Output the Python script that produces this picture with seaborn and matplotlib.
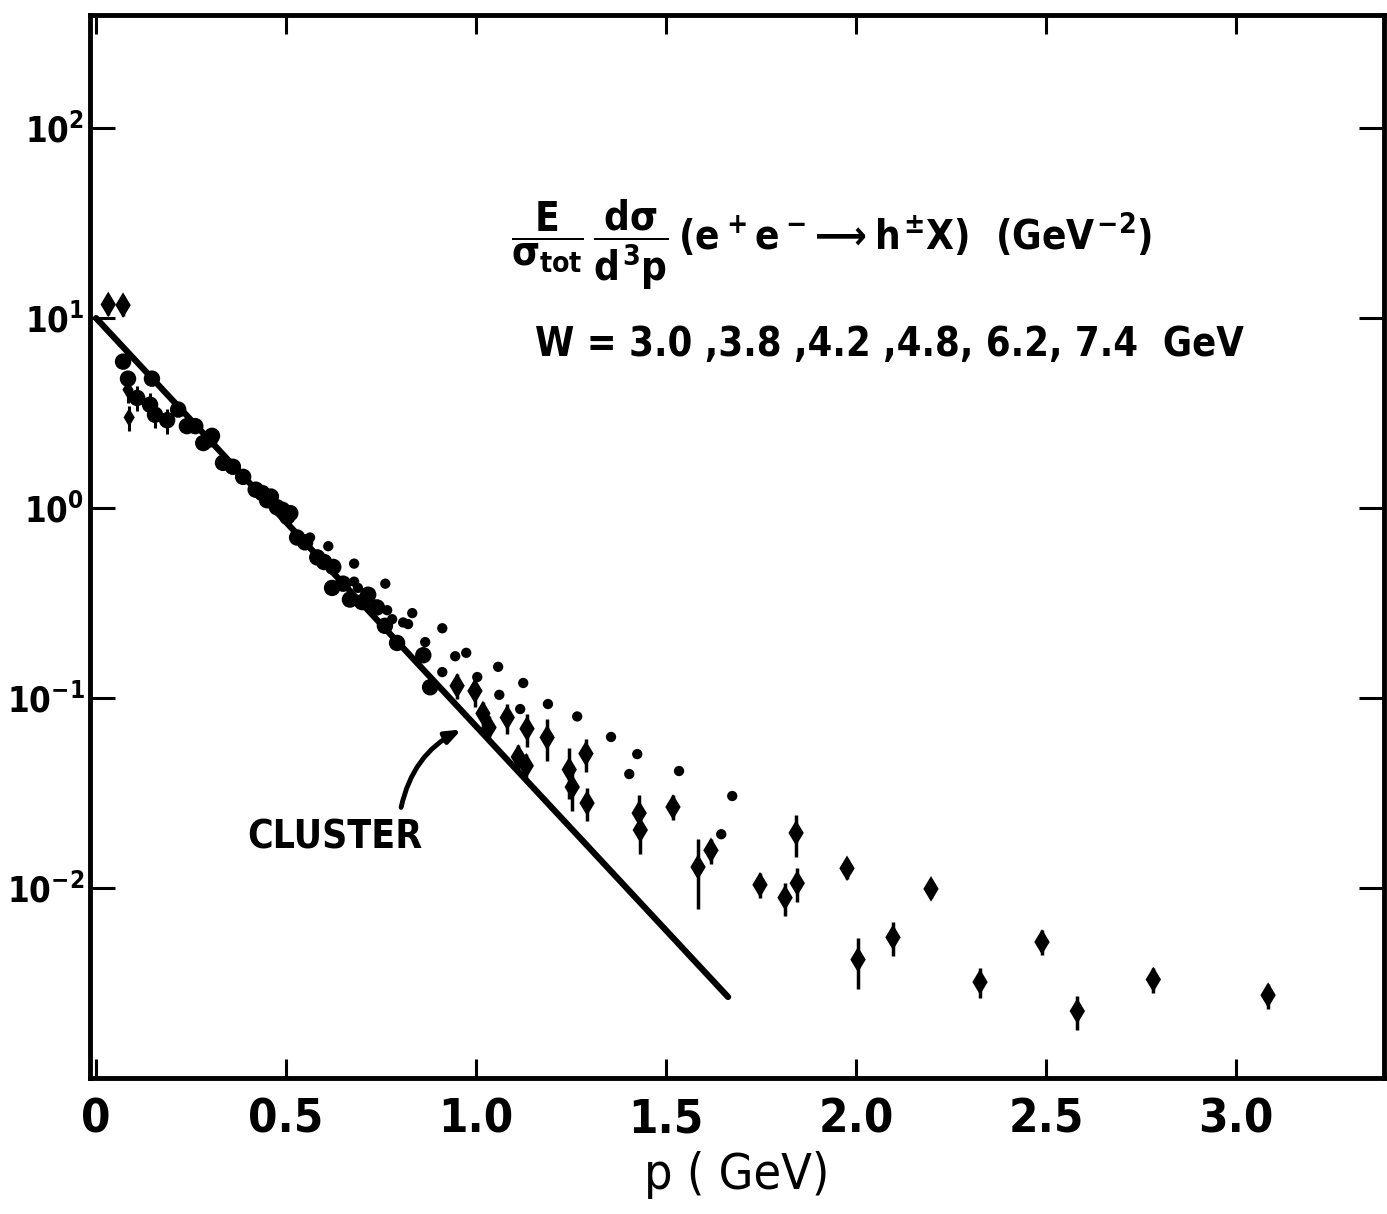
import numpy as np
import pandas as pd
import matplotlib
matplotlib.use("Agg")
import matplotlib.pyplot as plt
from matplotlib import font_manager as fm
import seaborn as sns

# --- data -----------------------------------------------------------------
# straight "cluster model" line (end points)
cluster_p = [0.0, 1.663]
cluster_y = [10.0, 2.67e-3]

# points sitting on / around the line at low momentum (big overlapping blobs)
blob_p = [0.071, 0.084, 0.108, 0.142, 0.147, 0.155, 0.187, 0.216, 0.239, 0.261,
          0.282, 0.30, 0.305, 0.334, 0.36, 0.387, 0.42, 0.437, 0.45, 0.46, 0.476,
          0.49, 0.503, 0.511, 0.529, 0.55, 0.582, 0.60, 0.621, 0.624, 0.65, 0.668,
          0.70, 0.716, 0.739, 0.76, 0.792, 0.861, 0.879]
blob_y = [5.9, 4.8, 3.8, 3.5, 4.8, 3.1, 2.9, 3.3, 2.7, 2.7,
          2.2, 2.3, 2.4, 1.73, 1.65, 1.46, 1.25, 1.20, 1.10, 1.15, 1.01,
          0.98, 0.90, 0.94, 0.70, 0.66, 0.55, 0.52, 0.38, 0.49, 0.40, 0.33,
          0.32, 0.35, 0.30, 0.24, 0.195, 0.168, 0.114]

# low-p points below the line (small diamonds with bars)
low_p = [0.084, 0.087, 0.108, 0.142, 0.155, 0.187]
low_y = [4.2, 3.0, 3.8, 3.5, 3.1, 2.9]

# plain dots (no visible error bars)
dot_p = [0.563, 0.611, 0.679, 0.679, 0.689, 0.761, 0.766, 0.779, 0.808, 0.821,
         0.832, 0.866, 0.911, 0.945, 0.974, 0.911, 1.003, 1.058, 1.124, 1.061,
         1.116, 1.189, 1.266, 1.355, 1.424, 1.403, 1.534, 1.674, 1.645]
dot_y = [0.70, 0.63, 0.51, 0.41, 0.38, 0.40, 0.29, 0.26, 0.25, 0.245,
         0.28, 0.197, 0.233, 0.166, 0.173, 0.137, 0.129, 0.146, 0.120, 0.104,
         0.0875, 0.093, 0.080, 0.0624, 0.0507, 0.0398, 0.0413, 0.0305, 0.0192]

# diamonds with error bars
dia_p = [0.032, 0.071, 0.950, 0.997, 1.018, 1.034, 1.082, 1.134, 1.187, 1.111,
         1.132, 1.245, 1.253, 1.289, 1.292, 1.429, 1.432, 1.518, 1.584, 1.618,
         1.747, 1.813, 1.845, 1.842, 1.976, 2.197, 2.005, 2.097, 2.326, 2.489,
         2.582, 2.782, 3.084]
dia_y = [11.8, 11.7, 0.116, 0.109, 0.083, 0.070, 0.079, 0.069, 0.062, 0.049,
         0.044, 0.042, 0.034, 0.051, 0.028, 0.0248, 0.0202, 0.0267, 0.0129, 0.0158,
         0.0104, 0.0089, 0.0106, 0.0195, 0.0127, 0.0099, 0.0042, 0.0055, 0.0032, 0.0052,
         0.00225, 0.0033, 0.00273]
dia_err = [0.12, 0.12, 0.15, 0.18, 0.15, 0.15, 0.18, 0.20, 0.25, 0.15,
           0.15, 0.30, 0.25, 0.20, 0.20, 0.25, 0.25, 0.15, 0.40, 0.15,
           0.15, 0.20, 0.20, 0.25, 0.12, 0.10, 0.30, 0.20, 0.18, 0.15,
           0.20, 0.15, 0.15]

x_ticks = [0, 0.5, 1.0, 1.5, 2.0, 2.5, 3.0]
x_labels = ["0", "0.5", "1.0", "1.5", "2.0", "2.5", "3.0"]
y_ticks = [1e-2, 1e-1, 1e0, 1e1, 1e2]
y_labels = [r"$10^{-2}$", r"$10^{-1}$", r"$10^{0}$", r"$10^{1}$", r"$10^{2}$"]

# --- style ----------------------------------------------------------------
sns.set_style("ticks")
fonts = fm.fontManager.ttflist
if any(f.name == "Liberation Sans Narrow" for f in fonts):
    font = "Liberation Sans Narrow"
else:
    font = "DejaVu Sans"
plt.rcParams["font.family"] = [font, "DejaVu Sans"]
plt.rcParams["font.weight"] = "bold"
if any(f.name == font and f.stretch == "condensed" for f in fonts):
    plt.rcParams["font.stretch"] = "condensed"
plt.rcParams["mathtext.fontset"] = "custom"
plt.rcParams["mathtext.rm"] = font + ":bold"
plt.rcParams["mathtext.it"] = font + ":bold"
plt.rcParams["mathtext.bf"] = font + ":bold"
plt.rcParams["mathtext.sf"] = font + ":bold"
for k in ["text.color", "axes.labelcolor", "xtick.color", "ytick.color", "axes.edgecolor"]:
    plt.rcParams[k] = "black"

fig = plt.figure(figsize=(13.87, 12.14), dpi=100)
ax = fig.add_axes([90 / 1387, 1 - 1078 / 1214, 1294 / 1387, 1063 / 1214])

cl = pd.DataFrame({"p": cluster_p, "y": cluster_y})
sns.lineplot(data=cl, x="p", y="y", color="black", lw=4.5, ax=ax,
             solid_capstyle="round")

blobs = pd.DataFrame({"p": blob_p, "y": blob_y})
sns.scatterplot(data=blobs, x="p", y="y", color="black", s=140, marker="o",
                edgecolor="none", ax=ax)

dots = pd.DataFrame({"p": dot_p, "y": dot_y})
sns.scatterplot(data=dots, x="p", y="y", color="black", s=55, marker="o",
                edgecolor="none", ax=ax)

low = pd.DataFrame({"p": low_p, "y": low_y})
ax.errorbar(low["p"], low["y"], yerr=low["y"] * 0.15, fmt="none", ecolor="black",
            elinewidth=2.2, capsize=0)
sns.scatterplot(data=low, x="p", y="y", color="black", s=90, marker="d",
                edgecolor="none", ax=ax)

dia = pd.DataFrame({"p": dia_p, "y": dia_y, "e": dia_err})
ax.errorbar(dia["p"], dia["y"], yerr=dia["y"] * dia["e"], fmt="none",
            ecolor="black", elinewidth=2.5, capsize=0)
sns.scatterplot(data=dia, x="p", y="y", color="black", s=170, marker="d",
                edgecolor="none", ax=ax)

ax.set_yscale("log")
ax.set_xlim(-0.016, 3.389)
ax.set_ylim(1e-3, 394)
ax.set_xticks(x_ticks)
ax.set_xticklabels(x_labels)
ax.set_yticks(y_ticks)
ax.set_yticklabels(y_labels)
ax.minorticks_off()
ax.yaxis.set_minor_locator(matplotlib.ticker.NullLocator())
ax.tick_params(axis="x", direction="in", length=14, width=2.2, top=True,
               labelsize=34, pad=14)
ax.tick_params(axis="y", direction="in", length=18, width=2.2, right=True,
               labelsize=25, pad=4)
for s in ax.spines.values():
    s.set_linewidth(3.5)
    s.set_color("black")

ax.set_xlabel("p ( GeV)", fontsize=36, labelpad=6, fontweight="normal")
ax.set_ylabel("")

ax.text(0.325, 0.784,
        r"$\dfrac{E}{\sigma_{tot}}\,\dfrac{d\sigma}{d^3p}\,(e^+e^-\!\longrightarrow h^{\pm}X)\ \ (GeV^{-2})$",
        transform=ax.transAxes, fontsize=29, ha="left", va="center")
ax.text(0.344, 0.690, "W = 3.0 ,3.8 ,4.2 ,4.8, 6.2, 7.4  GeV",
        transform=ax.transAxes, fontsize=28.5, ha="left", va="center")

ax.text(0.189, 0.226, "CLUSTER", transform=ax.transAxes, fontsize=28,
        ha="center", va="center")
ax.annotate("", xy=(0.289, 0.329), xytext=(0.240, 0.252),
            xycoords="axes fraction", textcoords="axes fraction",
            arrowprops=dict(arrowstyle="-|>,head_length=0.9,head_width=0.35",
                            connectionstyle="arc3,rad=-0.25", lw=3.5,
                            color="black"))

fig.savefig("out.png", dpi=100, facecolor="white")
